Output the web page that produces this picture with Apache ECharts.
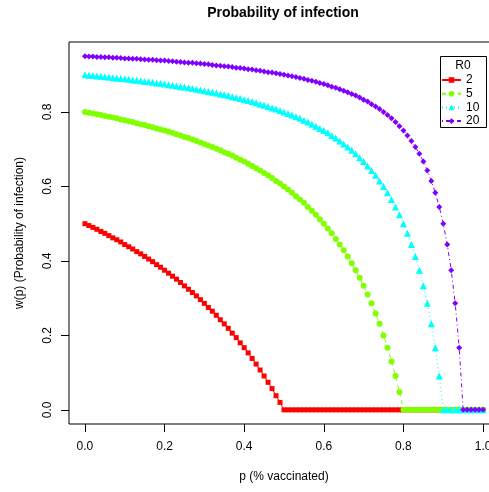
<!DOCTYPE html>
<html>
<head>
<meta charset="utf-8">
<script src="https://cdn.jsdelivr.net/npm/echarts@6/dist/echarts.min.js"></script>
<style>
  html, body { margin: 0; padding: 0; background: #fff; }
  #main { width: 489px; height: 492px; }
</style>
</head>
<body>
<div id="main"></div>
<script>
// data
var pVals = [0, 0.01, 0.02, 0.03, 0.04, 0.05, 0.06, 0.07, 0.08, 0.09,
  0.1, 0.11, 0.12, 0.13, 0.14, 0.15, 0.16, 0.17, 0.18, 0.19,
  0.2, 0.21, 0.22, 0.23, 0.24, 0.25, 0.26, 0.27, 0.28, 0.29,
  0.3, 0.31, 0.32, 0.33, 0.34, 0.35, 0.36, 0.37, 0.38, 0.39,
  0.4, 0.41, 0.42, 0.43, 0.44, 0.45, 0.46, 0.47, 0.48, 0.49,
  0.5, 0.51, 0.52, 0.53, 0.54, 0.55, 0.56, 0.57, 0.58, 0.59,
  0.6, 0.61, 0.62, 0.63, 0.64, 0.65, 0.66, 0.67, 0.68, 0.69,
  0.7, 0.71, 0.72, 0.73, 0.74, 0.75, 0.76, 0.77, 0.78, 0.79,
  0.8, 0.81, 0.82, 0.83, 0.84, 0.85, 0.86, 0.87, 0.88, 0.89,
  0.9, 0.91, 0.92, 0.93, 0.94, 0.95, 0.96, 0.97, 0.98, 0.99, 1];

var r0Names = ['2', '5', '10', '20'];

var wR2 = [0.5, 0.495, 0.49, 0.485, 0.479, 0.474, 0.468, 0.462, 0.457, 0.451,
  0.444, 0.438, 0.432, 0.425, 0.419, 0.412, 0.405, 0.398, 0.39, 0.383,
  0.375, 0.367, 0.359, 0.351, 0.342, 0.333, 0.324, 0.315, 0.306, 0.296,
  0.286, 0.275, 0.265, 0.254, 0.242, 0.231, 0.219, 0.206, 0.194, 0.18,
  0.167, 0.153, 0.138, 0.123, 0.107, 0.091, 0.074, 0.057, 0.038, 0.02,
  0, 0, 0, 0, 0, 0, 0, 0, 0, 0,
  0, 0, 0, 0, 0, 0, 0, 0, 0, 0,
  0, 0, 0, 0, 0, 0, 0, 0, 0, 0,
  0, 0, 0, 0, 0, 0, 0, 0, 0, 0,
  0, 0, 0, 0, 0, 0, 0, 0, 0, 0, 0];

var wR5 = [0.8, 0.798, 0.796, 0.794, 0.792, 0.789, 0.787, 0.785, 0.783, 0.78,
  0.778, 0.775, 0.773, 0.77, 0.767, 0.765, 0.762, 0.759, 0.756, 0.753,
  0.75, 0.747, 0.744, 0.74, 0.737, 0.733, 0.73, 0.726, 0.722, 0.718,
  0.714, 0.71, 0.706, 0.701, 0.697, 0.692, 0.688, 0.683, 0.677, 0.672,
  0.667, 0.661, 0.655, 0.649, 0.643, 0.636, 0.63, 0.623, 0.615, 0.608,
  0.6, 0.592, 0.583, 0.574, 0.565, 0.556, 0.545, 0.535, 0.524, 0.512,
  0.5, 0.487, 0.474, 0.459, 0.444, 0.429, 0.412, 0.394, 0.375, 0.355,
  0.333, 0.31, 0.286, 0.259, 0.231, 0.2, 0.167, 0.13, 0.091, 0.048,
  0, 0, 0, 0, 0, 0, 0, 0, 0, 0,
  0, 0, 0, 0, 0, 0, 0, 0, 0, 0, 0];

var wR10 = [0.9, 0.899, 0.898, 0.897, 0.896, 0.895, 0.894, 0.892, 0.891, 0.89,
  0.889, 0.888, 0.886, 0.885, 0.884, 0.882, 0.881, 0.88, 0.878, 0.877,
  0.875, 0.873, 0.872, 0.87, 0.868, 0.867, 0.865, 0.863, 0.861, 0.859,
  0.857, 0.855, 0.853, 0.851, 0.848, 0.846, 0.844, 0.841, 0.839, 0.836,
  0.833, 0.831, 0.828, 0.825, 0.821, 0.818, 0.815, 0.811, 0.808, 0.804,
  0.8, 0.796, 0.792, 0.787, 0.783, 0.778, 0.773, 0.767, 0.762, 0.756,
  0.75, 0.744, 0.737, 0.73, 0.722, 0.714, 0.706, 0.697, 0.688, 0.677,
  0.667, 0.655, 0.643, 0.63, 0.615, 0.6, 0.583, 0.565, 0.545, 0.524,
  0.5, 0.474, 0.444, 0.412, 0.375, 0.333, 0.286, 0.231, 0.167, 0.091,
  0, 0, 0, 0, 0, 0, 0, 0, 0, 0, 0];

var wR20 = [0.95, 0.949, 0.949, 0.948, 0.948, 0.947, 0.947, 0.946, 0.946, 0.945,
  0.944, 0.944, 0.943, 0.943, 0.942, 0.941, 0.94, 0.94, 0.939, 0.938,
  0.938, 0.937, 0.936, 0.935, 0.934, 0.933, 0.932, 0.932, 0.931, 0.93,
  0.929, 0.928, 0.926, 0.925, 0.924, 0.923, 0.922, 0.921, 0.919, 0.918,
  0.917, 0.915, 0.914, 0.912, 0.911, 0.909, 0.907, 0.906, 0.904, 0.902,
  0.9, 0.898, 0.896, 0.894, 0.891, 0.889, 0.886, 0.884, 0.881, 0.878,
  0.875, 0.872, 0.868, 0.865, 0.861, 0.857, 0.853, 0.848, 0.844, 0.839,
  0.833, 0.828, 0.821, 0.815, 0.808, 0.8, 0.792, 0.783, 0.773, 0.762,
  0.75, 0.737, 0.722, 0.706, 0.688, 0.667, 0.643, 0.615, 0.583, 0.545,
  0.5, 0.444, 0.375, 0.286, 0.167, 0, 0, 0, 0, 0, 0];

var xTicks = [0, 0.2, 0.4, 0.6, 0.8, 1.0];
var yTicks = [0, 0.2, 0.4, 0.6, 0.8];

//styles
var FONT = 'Liberation Sans, Arial, Helvetica, sans-serif';
var colors = ['#FF0000', '#80FF00', '#00FFFF', '#8000FF'];
var symbols = ['rect', 'circle', 'triangle', 'diamond'];
var symSizes = [5, 6, 7, 6];
var dashes = ['solid', [4, 4], [1, 3], [1, 3, 4, 3]];

function pairs(ys) {
  return pVals.map(function(p, i) { return [p, ys[i]]; });
}

var allW = [wR2, wR5, wR10, wR20];
var series = r0Names.map(function(name, k) {
  return {
    name: name,
    type: 'line',
    data: pairs(allW[k]),
    symbol: symbols[k],
    symbolSize: symSizes[k],
    showSymbol: true,
    clip: false,
    animation: false,
    itemStyle: { color: colors[k] },
    lineStyle: { color: colors[k], width: 1, type: dashes[k] },
    emphasis: { disabled: true }
  };
});

var chart = echarts.init(document.getElementById('main'), null, { renderer: 'canvas' });

chart.setOption({
  animation: false,
  backgroundColor: '#fff',
  textStyle: { fontFamily: FONT },
  grid: {
    left: 69, top: 42, width: 430, height: 382,
    outerBoundsMode: 'none', containLabel: false,
    show: true, borderColor: '#000', borderWidth: 1, backgroundColor: 'transparent'
  },
  xAxis: {
    type: 'value',
    min: -0.04, max: 1.04,
    name: 'p (% vaccinated)',
    nameLocation: 'middle',
    nameGap: 47,
    nameTextStyle: { fontSize: 12, color: '#000', fontFamily: FONT },
    splitLine: { show: false },
    axisLine: { show: false, onZero: false },
    axisTick: { show: true, length: 8, customValues: xTicks, lineStyle: { color: '#000' } },
    axisLabel: {
      customValues: xTicks, margin: 17, fontSize: 12, color: '#000', fontFamily: FONT,
      formatter: function(v) { return v.toFixed(1); }
    }
  },
  yAxis: {
    type: 'value',
    min: -0.038, max: 0.988,
    name: 'w(p) (Probability of infection)',
    nameLocation: 'middle',
    nameGap: 43,
    nameTextStyle: { fontSize: 12, color: '#000', fontFamily: FONT },
    splitLine: { show: false },
    axisLine: { show: false, onZero: false },
    axisTick: { show: true, length: 8, customValues: yTicks, lineStyle: { color: '#000' } },
    axisLabel: {
      customValues: yTicks, margin: 15, rotate: 90, fontSize: 12, color: '#000', fontFamily: FONT,
      formatter: function(v) { return v.toFixed(1); }
    }
  },
  legend: {
    data: r0Names,
    left: 441, top: 74,
    orient: 'vertical',
    itemWidth: 19, itemHeight: 7, itemGap: 1.7,
    padding: 0,
    textStyle: { fontSize: 12, color: '#000', fontFamily: FONT, lineHeight: 10 },
    selectedMode: false
  },
  graphic: [
    {
      type: 'text', x: 283, y: 6,
      style: { text: 'Probability of infection', font: 'bold 14px ' + FONT, fill: '#000', textAlign: 'center' }
    },
    {
      type: 'rect', shape: { x: 440.5, y: 56.5, width: 46, height: 71 },
      style: { fill: 'none', stroke: '#000', lineWidth: 1 }
    },
    {
      type: 'text', x: 463, y: 60,
      style: { text: 'R0', font: '12px ' + FONT, fill: '#000', textAlign: 'center' }
    }
  ],
  series: series
});
</script>
</body>
</html>
